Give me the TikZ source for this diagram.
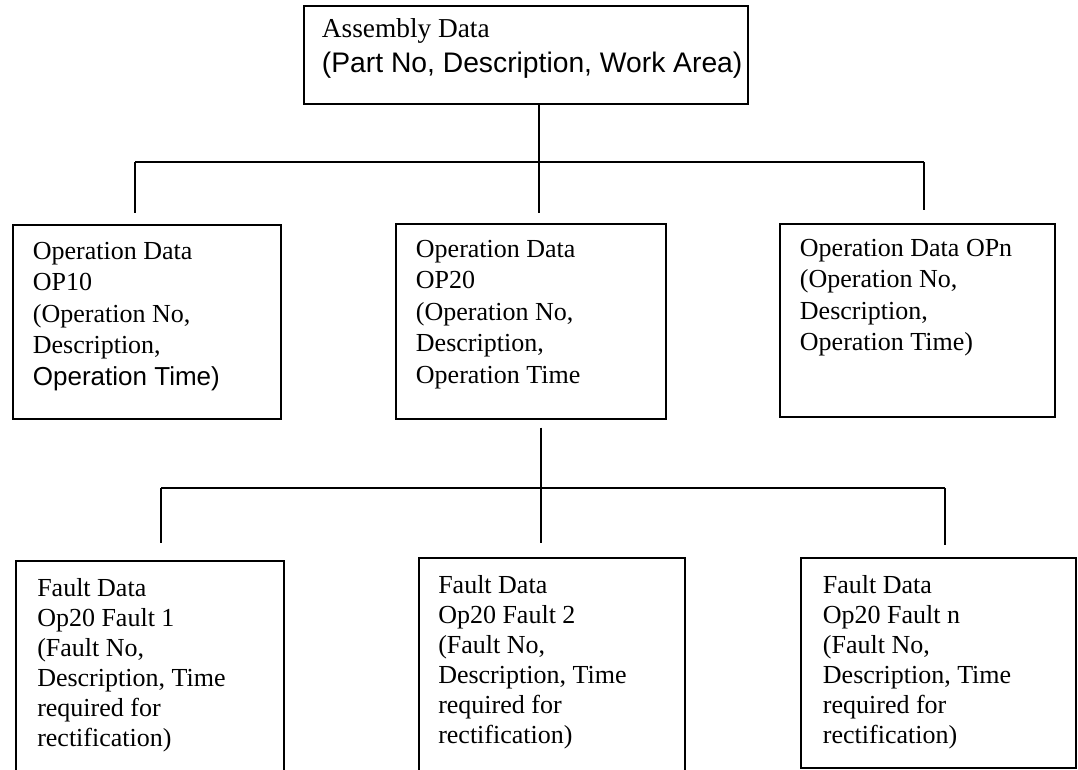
\documentclass[tikz,border=0pt]{standalone}
\usepackage{fontspec}
\setmainfont{Liberation Serif}
\newfontfamily\arialfont{Liberation Sans}
\usetikzlibrary{positioning}

\tikzset{
  databox/.style={draw, line width=1.3pt, inner sep=0pt, anchor=north west},
  boxtext/.style={inner sep=0pt, align=left, font=\fontsize{19.5}{23.6}\selectfont},
  faulttext/.style={boxtext, font=\fontsize{19.5}{22.5}\selectfont},
  link/.style={line width=1.3pt}
}

\begin{document}
\begin{tikzpicture}[x=0.75pt,y=-0.75pt]
    \useasboundingbox (0,0) rectangle (1078,769);

    %Kaesten
    \node[databox, minimum width=333pt, minimum height=73.5pt] (asm) at (303,5) {};
    \node[databox, minimum width=201pt, minimum height=145.5pt] (op10) at (12,224) {};
    \node[databox, minimum width=202.5pt, minimum height=146.25pt] (op20) at (395,223) {};
    \node[databox, minimum width=206.25pt, minimum height=144.75pt] (opn) at (779,223) {};
    \node[databox, minimum width=201pt, minimum height=180pt] (f1) at (15,560) {};      % unten offen
    \node[databox, minimum width=199.5pt, minimum height=180pt] (f2) at (418,557) {};   % unten offen
    \node[databox, minimum width=206.25pt, minimum height=157.5pt] (fn) at (800,557) {};

    %Texte
    \node[boxtext, font=\fontsize{20.5}{26}\selectfont, below right=10pt and 14pt of asm.north west] (asm-t)
        {Assembly Data\\ {\arialfont\fontsize{21.2}{26}\selectfont (Part No, Description, Work Area)}};
    \node[boxtext, below right=13.5pt and 15.5pt of op10.north west] (op10-t)
        {Operation Data\\ OP10\\ (Operation No,\\ Description,\\ {\arialfont Operation Time)}};
    \node[boxtext, below right=12.75pt and 15.5pt of op20.north west] (op20-t)
        {Operation Data\\ OP20\\ (Operation No,\\ Description,\\ Operation Time};
    \node[boxtext, below right=12pt and 15.5pt of opn.north west] (opn-t)
        {Operation Data OPn\\ (Operation No,\\ Description,\\ Operation Time)};
    \node[faulttext, below right=13.5pt and 16.5pt of f1.north west] (f1-t)
        {Fault Data\\ Op20 Fault 1\\ (Fault No,\\ Description, Time\\ required for\\ rectification)};
    \node[faulttext, below right=14pt and 15pt of f2.north west] (f2-t)
        {Fault Data\\ Op20 Fault 2\\ (Fault No,\\ Description, Time\\ required for\\ rectification)};
    \node[faulttext, below right=14pt and 17pt of fn.north west] (fn-t)
        {Fault Data\\ Op20 Fault n\\ (Fault No,\\ Description, Time\\ required for\\ rectification)};

    %Verbindungen Ebene 1
    \coordinate (j1) at (539,162);
    \coordinate (j1w) at (135,162);
    \coordinate (j1e) at (924,162);
    \draw[link] (asm.south -| j1) -- (j1);
    \draw[link] (j1w) -- (j1e);
    \draw[link, shorten >=8pt] (j1w) -- (j1w |- op10.north);
    \draw[link, shorten >=7.5pt] (j1) -- (j1 |- op20.north);
    \draw[link, shorten >=9.5pt] (j1e) -- (j1e |- opn.north);

    %Verbindungen Ebene 2
    \coordinate (j2) at (541,488);
    \coordinate (j2w) at (161,488);
    \coordinate (j2e) at (945,488);
    \draw[link, shorten <=6pt] (op20.south -| j2) -- (j2);
    \draw[link] (j2w) -- (j2e);
    \draw[link, shorten >=12.75pt] (j2w) -- (j2w |- f1.north);
    \draw[link, shorten >=10.5pt] (j2) -- (j2 |- f2.north);
    \draw[link, shorten >=9pt] (j2e) -- (j2e |- fn.north);
\end{tikzpicture}
\end{document}
